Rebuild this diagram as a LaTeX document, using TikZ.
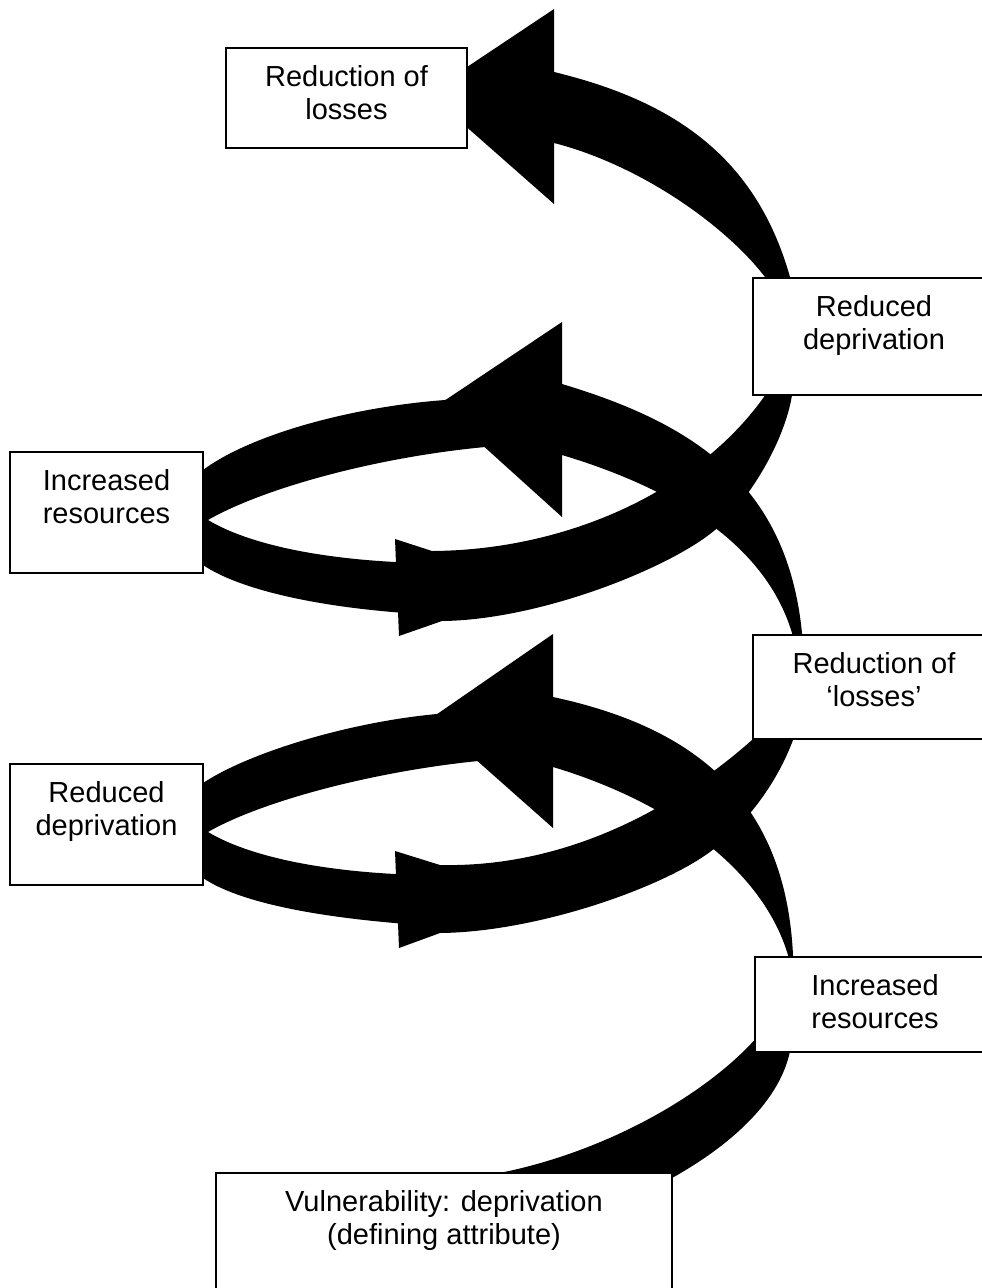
\documentclass[tikz,border=0pt]{standalone}
\usepackage{fontspec}
\setmainfont{Liberation Sans}
% text block of a box: fixed size, text set from the top
\newcommand\boxlabel[3]{\parbox[c][#2pt][t]{#1pt}{\centering\fontsize{29}{33}\selectfont\rule{0pt}{38pt}#3\par}}
\begin{document}
\begin{tikzpicture}[x=1pt,y=-1pt,
  box/.style={draw=black, line width=1.1pt, fill=white, inner sep=0pt, rectangle},
  band/.style={fill=black}]
\useasboundingbox (0,0) rectangle (982,1288);

% ---- spiral band, drawn from the top down ----
% last arc: from "Reduced deprivation" up to "Reduction of losses"
\fill[band] (795,300) -- (790,277) .. controls (756,157) and (674,101) .. (554,72)
  -- (554,9) -- (428,93) -- (554,204) -- (554,143)
  .. controls (640,165) and (725,225) .. (765,277) -- (772,300) -- cycle;

% upper loop: rising band with the left-pointing head
\fill[band] (562,384) -- (562,322) -- (438,405) -- (562,517) -- (562,455)
  .. controls (672,488) and (765,543) .. (792,633) -- (793,650) -- (803,650) -- (802,633)
  .. controls (787,483) and (692,423) .. (562,384) -- cycle;
% upper loop: left turn
\fill[band] (470,398) -- (445,400) .. controls (350,407) and (250,435) .. (203,470)
  .. controls (180,487) and (180,548) .. (203,565)
  .. controls (240,590) and (320,608) .. (420,614) -- (420,563) -- (395,562)
  .. controls (320,558) and (250,545) .. (208,520)
  .. controls (260,490) and (370,458) .. (485,447) -- cycle;
% upper loop: lower band with the right-pointing head
\fill[band] (395,539) -- (432,551) .. controls (580,550) and (715,480) .. (775,380)
  -- (797,380) -- (792,395) .. controls (785,440) and (750,500) .. (715,530)
  .. controls (670,568) and (540,620) .. (442,621) -- (399,636) -- cycle;

% lower loop: rising band with the left-pointing head
\fill[band] (553,697) -- (553,634) -- (430,719) -- (553,828) -- (553,767)
  .. controls (663,800) and (761,865) .. (788,955) -- (789,970) -- (794,970) -- (793,955)
  .. controls (785,790) and (683,725) .. (553,697) -- cycle;
% lower loop: left turn
\fill[band] (460,712) -- (437,714) .. controls (350,722) and (250,752) .. (203,783)
  .. controls (180,800) and (180,860) .. (203,878)
  .. controls (240,903) and (320,918) .. (420,925) -- (420,875) -- (395,874)
  .. controls (320,870) and (250,857) .. (208,832)
  .. controls (260,802) and (370,772) .. (478,761) -- cycle;
% lower loop: lower band with the right-pointing head
\fill[band] (395,851) -- (440,865) .. controls (580,868) and (690,795) .. (752,740) -- (756,725)
  -- (797,725) -- (793,740) .. controls (780,775) and (755,815) .. (715,848)
  .. controls (670,885) and (540,932) .. (440,933) -- (399,948) -- cycle;

% first arc: from the vulnerability box up to "Increased resources"
\fill[band] (660,1195) -- (672,1178) .. controls (740,1140) and (790,1090) .. (792,1035)
  -- (763,1030) .. controls (715,1090) and (600,1160) .. (470,1178) -- (470,1195) -- cycle;

% ---- boxes ----
\node[box] (loss1) at (346.5,98)   {\boxlabel{241}{100}{Reduction of\\losses}};
\node[box] (depr2) at (874,336.5)  {\boxlabel{242}{117}{Reduced\\deprivation}};
\node[box] (res2)  at (106.5,512.5){\boxlabel{193}{121}{Increased\\resources}};
\node[box] (loss0) at (874,687)    {\boxlabel{242}{104}{Reduction of\\‘losses’}};
\node[box] (depr1) at (106.5,824.5){\boxlabel{193}{121}{Reduced\\deprivation}};
\node[box] (res1)  at (875,1004.5) {\boxlabel{240}{95}{Increased\\resources}};
\node[box] (vuln)  at (444,1238)   {\boxlabel{456}{130}{Vulnerability: deprivation\\(defining attribute)}};
\end{tikzpicture}
\end{document}
